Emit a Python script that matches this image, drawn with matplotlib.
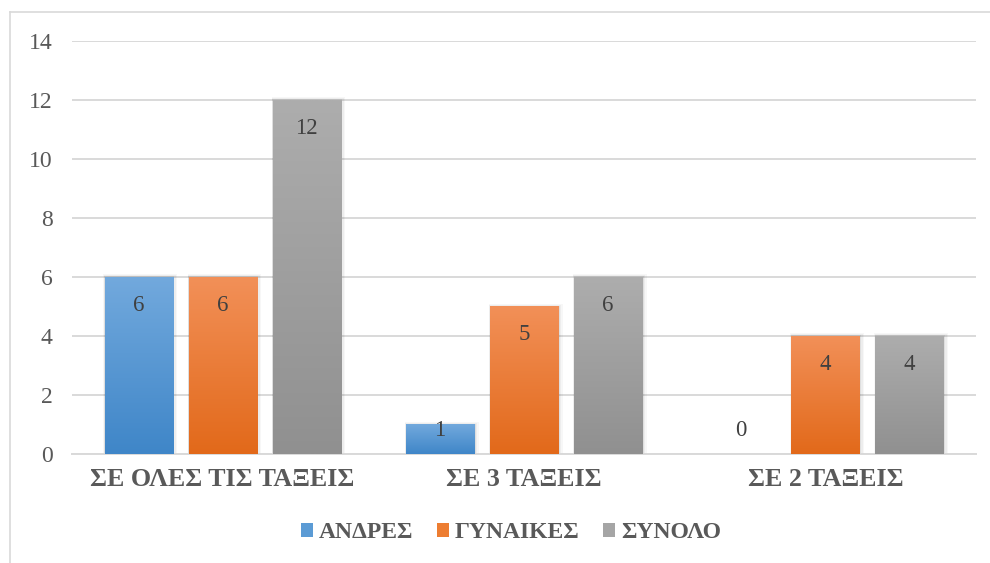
import numpy as np
import matplotlib
matplotlib.use("Agg")
import matplotlib.pyplot as plt
from matplotlib.colors import LinearSegmentedColormap
from matplotlib.patches import Patch, Rectangle

# --- DATA ---
categories = ["ΣΕ ΟΛΕΣ ΤΙΣ ΤΑΞΕΙΣ", "ΣΕ 3 ΤΑΞΕΙΣ", "ΣΕ 2 ΤΑΞΕΙΣ"]
series_names = ["ΑΝΔΡΕΣ", "ΓΥΝΑΙΚΕΣ", "ΣΥΝΟΛΟ"]
andres = [6, 1, 0]
gynaikes = [6, 5, 4]
synolo = [12, 6, 4]
yticks = [0, 2, 4, 6, 8, 10, 12, 14]

# --- STYLE ---
# gradient (top, bottom) for each series
gradients = [("#72a9dd", "#3f86c8"), ("#f29058", "#e2691a"), ("#adadad", "#909090")]
legend_colors = ["#5b9bd5", "#ed7d31", "#a5a5a5"]
text_col = "#595959"
label_col = "#404040"
plt.rcParams['font.family'] = ['Liberation Serif', 'DejaVu Serif']

fig = plt.figure(figsize=(9.9, 5.63), dpi=100)
ax = fig.add_axes([72 / 990, 1 - 454 / 563, (976 - 72) / 990, (454 - 41) / 563])

# chart border (left + top visible)
fig.add_artist(plt.Line2D([10 / 990, 10 / 990], [0, 1 - 12 / 563], transform=fig.transFigure,
                          color="#d9d9d9", lw=1.2))
fig.add_artist(plt.Line2D([10 / 990, 1], [1 - 12 / 563, 1 - 12 / 563], transform=fig.transFigure,
                          color="#d9d9d9", lw=1.2))

x = np.arange(len(categories))
bar_w = 0.226
step = 0.279
all_series = [andres, gynaikes, synolo]

for i, (vals, (c_top, c_bot)) in enumerate(zip(all_series, gradients)):
    cmap = LinearSegmentedColormap.from_list(f"g{i}", [c_bot, c_top])
    grad = np.linspace(0, 1, 256).reshape(-1, 1)
    for xi, v in zip(x + (i - 1) * step, vals):
        left = xi - bar_w / 2
        if v > 0:
            # soft shadow
            for k, a in enumerate([0.06, 0.04, 0.03]):
                d = 0.004 * (k + 1)
                ax.add_patch(Rectangle((left - d * 0.3, 0), bar_w + d * 1.6, v + 0.03 * (k + 1),
                                       facecolor="black", alpha=a, lw=0, zorder=2))
            ax.imshow(grad, extent=(left, left + bar_w, 0, v), origin="lower",
                      cmap=cmap, aspect="auto", zorder=3)
        ypos = max(v - 0.95, 0.8)
        ax.text(xi, ypos, str(v), ha="center", va="center", fontsize=16.5,
                color=label_col, zorder=4)

ax.set_xlim(-0.5, len(categories) - 0.5)
ax.set_ylim(0, 14)
ax.set_yticks(yticks)
ax.set_yticklabels([str(t) for t in yticks], fontsize=17, color=text_col)
ax.set_xticks(x)
ax.set_xticklabels(categories, fontsize=18.7, fontweight="bold", color=text_col)
ax.tick_params(axis="both", length=0)
ax.tick_params(axis="y", pad=14)
ax.tick_params(axis="x", pad=10)
ax.yaxis.grid(True, color="#d9d9d9", lw=1.4)
ax.set_axisbelow(True)
for s in ["left", "right", "top"]:
    ax.spines[s].set_visible(False)
ax.spines["bottom"].set_color("#d9d9d9")
ax.spines["bottom"].set_linewidth(1.4)

handles = [Patch(facecolor=c, edgecolor="none") for c in legend_colors]
leg = fig.legend(handles, series_names, loc="center", bbox_to_anchor=(511 / 990, 1 - 533 / 563),
                 ncol=3, frameon=False, handlelength=0.5, handleheight=0.5, handletextpad=0.25,
                 columnspacing=1.0, prop={"size": 17, "weight": "bold"})
for t in leg.get_texts():
    t.set_color(text_col)

fig.savefig("out.png", dpi=100)
